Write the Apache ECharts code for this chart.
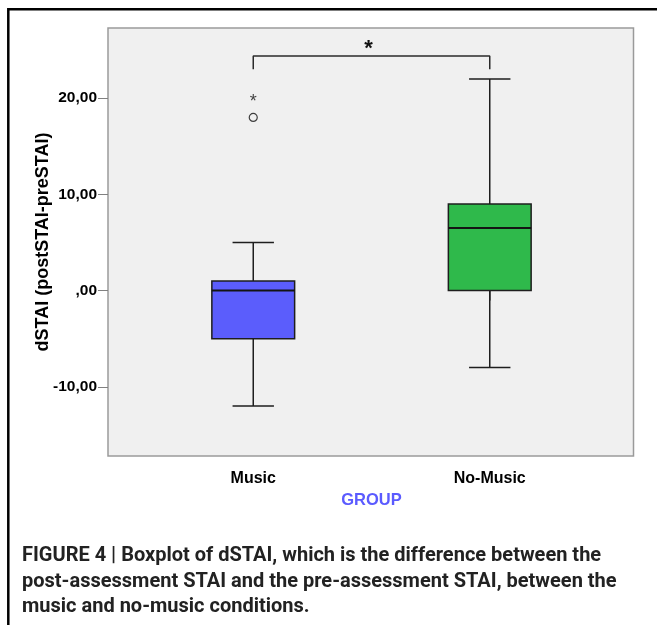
<!DOCTYPE html>
<html>
<head>
<meta charset="utf-8">
<script src="https://cdn.jsdelivr.net/npm/echarts@6/dist/echarts.min.js"></script>
<style>
  html, body { margin: 0; padding: 0; background: #ffffff; }
  #chart { width: 657px; height: 625px; }
</style>
</head>
<body>
<div id="chart"></div>
<script>
// Groups on the x axis
const groups = ['Music', 'No-Music'];

// Five-number summaries of dSTAI for each group
const lowerWhisker = [-12, -8];
const quartile1 = [-5, 0];
const medians = [0, 6.5];
const quartile3 = [1, 9];
const upperWhisker = [5, 22];

// Points beyond the whiskers
const outliers = [['Music', 18]];
const extremes = [['Music', 20]];

// Y axis ticks and their labels (comma decimal separator)
const yTickValues = [-10, 0, 10, 20];
const yTickLabels = ['-10,00', ',00', '10,00', '20,00'];

// Significance bracket between the two groups
const bracketFoot = 23.0;
const bracketTop = 24.4;
const significanceMark = '*';

const captionLines = [
  'FIGURE 4 | Boxplot of dSTAI, which is the difference between the',
  'post-assessment STAI and the pre-assessment STAI, between the',
  'music and no-music conditions.'
];

// ---- styling ----
const boxFills = ['#5b5dfc', '#2fb94b'];
const inkColor = '#1e1e1e';
const axisFont = "'Liberation Sans', Arial, Helvetica, sans-serif";
const Y_MIN = -17.2, Y_MAX = 27.3;

const boxData = groups.map((g, i) => [i, lowerWhisker[i], quartile1[i], medians[i], quartile3[i], upperWhisker[i]]);
const bracketData = [
  [groups[0], bracketFoot], [groups[0], bracketTop],
  [groups[1], bracketTop], [groups[1], bracketFoot]
];

function renderBox(params, api) {
  const idx = api.value(0);
  const x = api.coord([idx, 0])[0];
  const band = api.size([1, 0])[0];
  const halfBox = band * 0.175;
  const halfCap = band * 0.0875;
  const y = v => api.coord([idx, v])[1];
  const yLo = y(api.value(1)), yQ1 = y(api.value(2)), yMed = y(api.value(3)),
        yQ3 = y(api.value(4)), yHi = y(api.value(5));
  const stroke = { stroke: inkColor, lineWidth: 1.5 };
  return {
    type: 'group',
    children: [
      { type: 'line', shape: { x1: x, y1: yQ3, x2: x, y2: yHi }, style: stroke },
      { type: 'line', shape: { x1: x, y1: yQ1, x2: x, y2: yLo }, style: stroke },
      { type: 'line', shape: { x1: x - halfCap, y1: yHi, x2: x + halfCap, y2: yHi }, style: stroke },
      { type: 'line', shape: { x1: x - halfCap, y1: yLo, x2: x + halfCap, y2: yLo }, style: stroke },
      { type: 'rect', shape: { x: x - halfBox, y: yQ3, width: 2 * halfBox, height: yQ1 - yQ3 },
        style: { fill: boxFills[idx], stroke: inkColor, lineWidth: 1.5 } },
      { type: 'line', shape: { x1: x - halfBox, y1: yMed, x2: x + halfBox, y2: yMed },
        style: { stroke: '#141414', lineWidth: 2 } }
    ]
  };
}

const chart = echarts.init(document.getElementById('chart'), null, { renderer: 'canvas' });

const option = {
  backgroundColor: '#ffffff',
  animation: false,
  grid: [
    // plot frame with the grey background and the y scale
    { left: 108, right: 23.5, top: 28, bottom: 169, show: true,
      backgroundColor: '#f0f0f0', borderColor: '#9a9a9a', borderWidth: 1.5 },
    // inner band layout for the two groups
    { left: 135, right: 49, top: 28, bottom: 169 }
  ],
  xAxis: [
    { gridIndex: 0, type: 'value', show: false, min: 0, max: 1 },
    { gridIndex: 1, type: 'category', data: groups,
      axisLine: { show: false },
      axisTick: { show: true, alignWithLabel: true, length: 10, lineStyle: { color: '#808080', width: 1 } },
      axisLabel: { margin: 15, color: '#000', fontFamily: axisFont, fontWeight: 'bold', fontSize: 16 },
      name: 'GROUP', nameLocation: 'middle', nameGap: 36, nameMoveOverlap: false,
      nameTextStyle: { color: '#5b5bff', fontFamily: axisFont, fontWeight: 'bold', fontSize: 16.5 }
    }
  ],
  yAxis: [
    { gridIndex: 0, type: 'value', min: Y_MIN, max: Y_MAX,
      splitLine: { show: false },
      axisLine: { show: false },
      axisTick: { show: true, customValues: yTickValues, length: 10, lineStyle: { color: '#808080', width: 1 } },
      axisLabel: { customValues: yTickValues, margin: 11, color: '#000', fontFamily: axisFont,
        fontWeight: 'bold', fontSize: 15.5,
        formatter: v => yTickLabels[yTickValues.indexOf(v)] },
      name: 'dSTAI (postSTAI-preSTAI)', nameLocation: 'middle', nameRotate: 90, nameGap: 56,
      nameMoveOverlap: false,
      nameTextStyle: { color: '#000', fontFamily: axisFont, fontWeight: 'bold', fontSize: 18 }
    },
    { gridIndex: 1, type: 'value', min: Y_MIN, max: Y_MAX, show: false, splitLine: { show: false } }
  ],
  series: [
    { type: 'custom', xAxisIndex: 1, yAxisIndex: 1, renderItem: renderBox,
      encode: { x: 0, y: [1, 2, 3, 4, 5] }, data: boxData, z: 3 },
    { type: 'scatter', xAxisIndex: 1, yAxisIndex: 1, data: outliers,
      symbol: 'circle', symbolSize: 8,
      itemStyle: { color: 'rgba(0,0,0,0)', borderColor: '#111', borderWidth: 1.2 }, z: 4 },
    { type: 'scatter', xAxisIndex: 1, yAxisIndex: 1, data: extremes,
      symbol: 'circle', symbolSize: 1, itemStyle: { color: 'rgba(0,0,0,0)' },
      label: { show: true, position: 'inside', formatter: '*', offset: [0, 4],
        color: '#111', fontFamily: axisFont, fontSize: 18 }, z: 4 },
    { type: 'line', xAxisIndex: 1, yAxisIndex: 1, data: bracketData,
      symbol: 'none', lineStyle: { color: '#2a2a2a', width: 1.5 }, z: 4 }
  ]
};

chart.setOption(option);

// Significance star centred over the bracket
const leftTop = chart.convertToPixel({ xAxisIndex: 1, yAxisIndex: 1 }, [groups[0], bracketTop]);
const rightTop = chart.convertToPixel({ xAxisIndex: 1, yAxisIndex: 1 }, [groups[1], bracketTop]);
const starX = (leftTop[0] + rightTop[0]) / 2 - 3;

const captionFont = "bold 20px Roboto, 'Liberation Sans', Arial, sans-serif";
chart.setOption({
  graphic: [
    { type: 'rect', shape: { x: 8.3, y: 9.3, width: 700, height: 700 },
      style: { fill: 'none', stroke: '#000', lineWidth: 2.5 }, silent: true },
    { type: 'text', x: starX, y: leftTop[1] + 4,
      style: { text: significanceMark, font: "bold 22px 'Liberation Sans', Arial, sans-serif",
        fill: '#111', textAlign: 'center', textVerticalAlign: 'bottom' } },
    ...captionLines.map((line, i) => ({
      type: 'text', x: 22, y: 556 + i * 25.5,
      style: { text: line, font: captionFont, fill: '#222', textAlign: 'left', textVerticalAlign: 'middle' }
    }))
  ]
});
</script>
</body>
</html>
